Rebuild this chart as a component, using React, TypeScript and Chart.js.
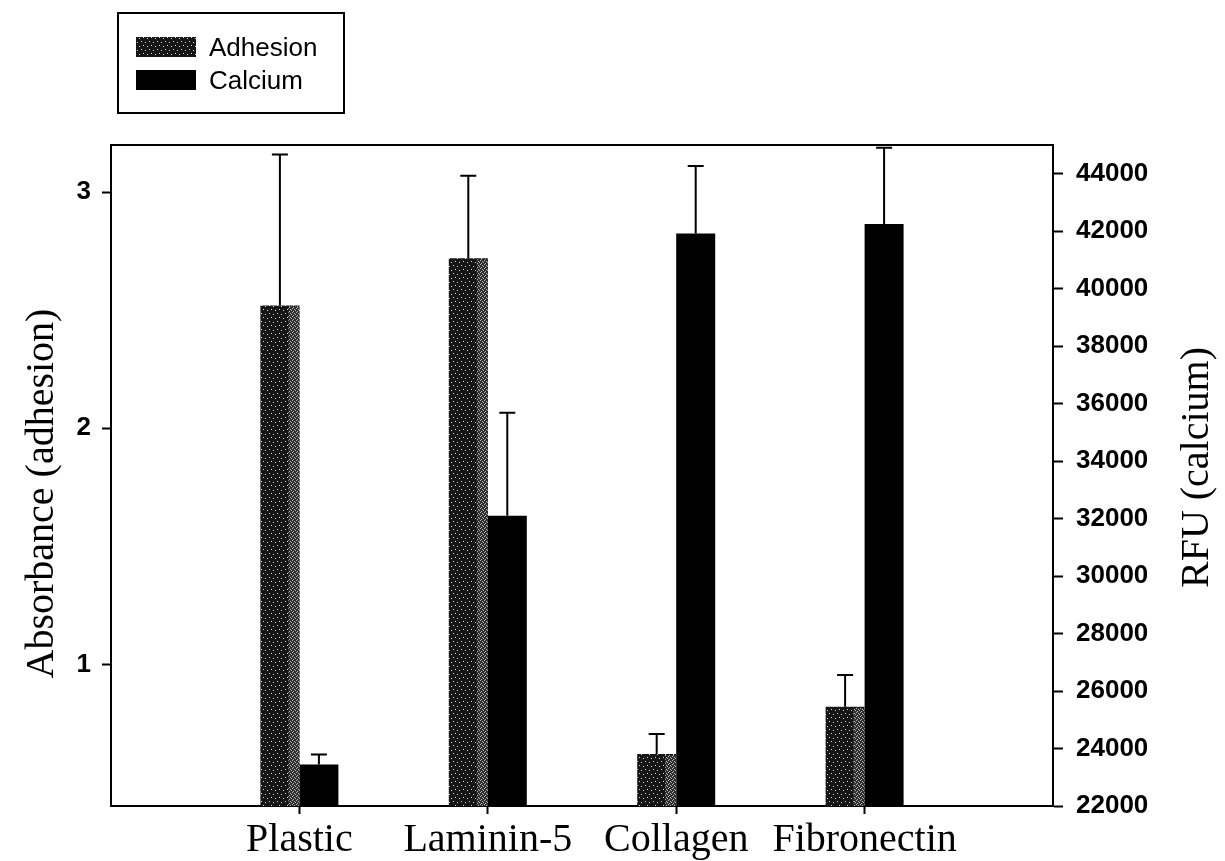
import React, { useEffect, useRef } from "react";
import { Chart, registerables } from "chart.js";

Chart.register(...registerables);

// ---- data ----
const categories = ["", "Plastic", "Laminin-5", "Collagen", "Fibronectin", ""];
const adhesion = [null, 2.52, 2.72, 0.62, 0.82, null];
const adhesionErr = [null, 0.64, 0.35, 0.085, 0.135, null];
const calcium = [null, 23440, 32100, 41920, 42250, null];
const calciumErr = [null, 350, 3580, 2350, 2650, null];
const leftTicks = [1, 2, 3];
const rightTicks = [22000, 24000, 26000, 28000, 30000, 32000, 34000, 36000, 38000, 40000, 42000, 44000];
const seriesNames = ["Adhesion", "Calcium"];
const leftTitle = "Absorbance (adhesion)";
const rightTitle = "RFU (calcium)";

const SANS = "'Liberation Sans', Arial, Helvetica, sans-serif";
const SERIF = "'Liberation Serif', 'Times New Roman', Times, serif";

function makePattern(
  ctx: CanvasRenderingContext2D,
  size: number,
  base: string,
  dot: string,
  dots: number[][]
): CanvasPattern | string {
  const c = document.createElement("canvas");
  c.width = size;
  c.height = size;
  const g = c.getContext("2d");
  if (!g) return base;
  g.fillStyle = base;
  g.fillRect(0, 0, size, size);
  g.fillStyle = dot;
  dots.forEach(([x, y]) => g.fillRect(x, y, 1, 1));
  return ctx.createPattern(c, "repeat") || base;
}

const shadePlugin = {
  id: "shade",
  afterDatasetDraw(chart: any, args: any) {
    if (args.index !== 0) return;
    const light = chart.$lightPattern;
    if (!light) return;
    const { ctx } = chart;
    const yScale = chart.scales.y;
    const bottom = yScale.getPixelForValue(yScale.min);
    ctx.save();
    ctx.fillStyle = light;
    args.meta.data.forEach((el: any, j: number) => {
      if (chart.data.datasets[0].data[j] == null) return;
      const w = el.width;
      const right = el.x + w / 2;
      const bandW = Math.round(w * 0.27);
      ctx.fillRect(right - bandW, el.y + 1, bandW, bottom - el.y - 1);
    });
    ctx.restore();
  },
};

const errorBarsPlugin = {
  id: "errorBars",
  afterDatasetsDraw(chart: any) {
    const { ctx } = chart;
    ctx.save();
    ctx.strokeStyle = "#000";
    ctx.lineWidth = 2;
    chart.data.datasets.forEach((ds: any, i: number) => {
      const meta = chart.getDatasetMeta(i);
      const scale = chart.scales[ds.yAxisID];
      meta.data.forEach((el: any, j: number) => {
        const v = ds.data[j];
        const e = ds.errors ? ds.errors[j] : null;
        if (v == null || e == null) return;
        const yTop = scale.getPixelForValue(v + e);
        const x = el.x;
        ctx.beginPath();
        ctx.moveTo(x, el.y);
        ctx.lineTo(x, yTop);
        ctx.moveTo(x - 8, yTop);
        ctx.lineTo(x + 8, yTop);
        ctx.stroke();
      });
    });
    ctx.restore();
  },
};

const decorPlugin = {
  id: "decor",
  afterDraw(chart: any) {
    const { ctx, chartArea: a } = chart;
    ctx.save();
    // top frame line
    ctx.strokeStyle = "#000";
    ctx.lineWidth = 2;
    ctx.beginPath();
    ctx.moveTo(a.left - 1, a.top);
    ctx.lineTo(a.right + 1, a.top);
    ctx.stroke();

    // axis titles
    ctx.fillStyle = "#000";
    ctx.font = `40px ${SERIF}`;
    ctx.textAlign = "center";
    ctx.textBaseline = "middle";
    ctx.save();
    ctx.translate(42, (a.top + a.bottom) / 2 + 18);
    ctx.rotate(-Math.PI / 2);
    ctx.fillText(leftTitle, 0, 0);
    ctx.restore();
    ctx.save();
    ctx.translate(1197, (a.top + a.bottom) / 2 - 8);
    ctx.rotate(-Math.PI / 2);
    ctx.fillText(rightTitle, 0, 0);
    ctx.restore();

    // legend box
    ctx.lineWidth = 2;
    ctx.strokeRect(118, 13, 226, 100);
    ctx.font = `26px ${SANS}`;
    ctx.textAlign = "left";
    ctx.textBaseline = "alphabetic";
    chart.data.datasets.forEach((ds: any, i: number) => {
      const top = 37 + i * 33;
      ctx.fillStyle = ds.backgroundColor;
      ctx.fillRect(136, top, 60, 20);
      ctx.fillStyle = "#000";
      ctx.fillText(ds.label, 209, top + 19);
    });
    ctx.restore();
  },
};

export default function App() {
  const ref = useRef<HTMLCanvasElement | null>(null);

  useEffect(() => {
    const canvas = ref.current;
    if (!canvas) return;
    const ctx = canvas.getContext("2d");
    if (!ctx) return;
    const texture = makePattern(ctx, 8, "#161616", "#d8d8d8", [
      [1, 2],
      [5, 1],
      [3, 6],
      [7, 5],
    ]);
    const lightTexture = makePattern(ctx, 4, "#2e2e2e", "#b8b8b8", [
      [0, 0],
      [2, 1],
      [1, 3],
      [3, 2],
    ]);

    const tickFont = { family: SANS, size: 26, weight: "bold" };

    const chart = new Chart(ctx, {
      type: "bar",
      data: {
        labels: categories,
        datasets: [
          {
            label: seriesNames[0],
            data: adhesion as any,
            errors: adhesionErr,
            yAxisID: "y",
            backgroundColor: texture as any,
            borderWidth: 0,
            categoryPercentage: 0.414,
            barPercentage: 1,
          } as any,
          {
            label: seriesNames[1],
            data: calcium as any,
            errors: calciumErr,
            yAxisID: "y1",
            backgroundColor: "#000000",
            borderWidth: 0,
            categoryPercentage: 0.414,
            barPercentage: 1,
          } as any,
        ],
      },
      options: {
        responsive: false,
        devicePixelRatio: 1,
        animation: false,
        layout: { padding: { top: 145, left: 0, right: 0, bottom: 0 } },
        plugins: {
          legend: { display: false },
          tooltip: { enabled: false },
          title: { display: false },
        },
        scales: {
          x: {
            type: "category",
            offset: false,
            grid: {
              offset: false,
              drawOnChartArea: false,
              drawTicks: true,
              tickLength: 8,
              tickWidth: 2,
              tickColor: (c: any) =>
                c.index === 0 || c.index === categories.length - 1 ? "rgba(0,0,0,0)" : "#000",
            },
            border: { display: true, color: "#000", width: 2 },
            ticks: {
              color: "#000",
              font: { family: SERIF, size: 40 },
              padding: 2,
              maxRotation: 0,
              autoSkip: false,
            },
            afterFit: (s: any) => {
              s.height = 55;
            },
          },
          y: {
            type: "linear",
            position: "left",
            min: 0.4,
            max: 3.2,
            afterBuildTicks: (s: any) => {
              s.ticks = leftTicks.map((v) => ({ value: v }));
            },
            ticks: {
              color: "#000",
              font: tickFont,
              padding: 11,
              callback: (v: any) => String(v),
            },
            grid: {
              drawOnChartArea: false,
              drawTicks: true,
              tickLength: 9,
              tickWidth: 2,
              tickColor: "#000",
            },
            border: { display: true, color: "#000", width: 2 },
            afterFit: (s: any) => {
              s.width = 111;
            },
          },
          y1: {
            type: "linear",
            position: "right",
            min: 22000,
            max: 45000,
            afterBuildTicks: (s: any) => {
              s.ticks = rightTicks.map((v) => ({ value: v }));
            },
            ticks: {
              color: "#000",
              font: tickFont,
              padding: 13,
              callback: (v: any) => String(v),
            },
            grid: {
              drawOnChartArea: false,
              drawTicks: true,
              tickLength: 10,
              tickWidth: 2,
              tickColor: "#000",
            },
            border: { display: true, color: "#000", width: 2 },
            afterFit: (s: any) => {
              s.width = 172;
            },
          },
        },
      } as any,
      plugins: [shadePlugin, errorBarsPlugin, decorPlugin],
    });
    (chart as any).$lightPattern = lightTexture;
    chart.draw();

    return () => chart.destroy();
  }, []);

  return (
    <div
      style={{
        position: "fixed",
        left: 0,
        top: 0,
        width: 1225,
        height: 861,
        background: "#fff",
      }}
    >
      <canvas ref={ref} width={1225} height={861} style={{ display: "block" }} />
    </div>
  );
}
